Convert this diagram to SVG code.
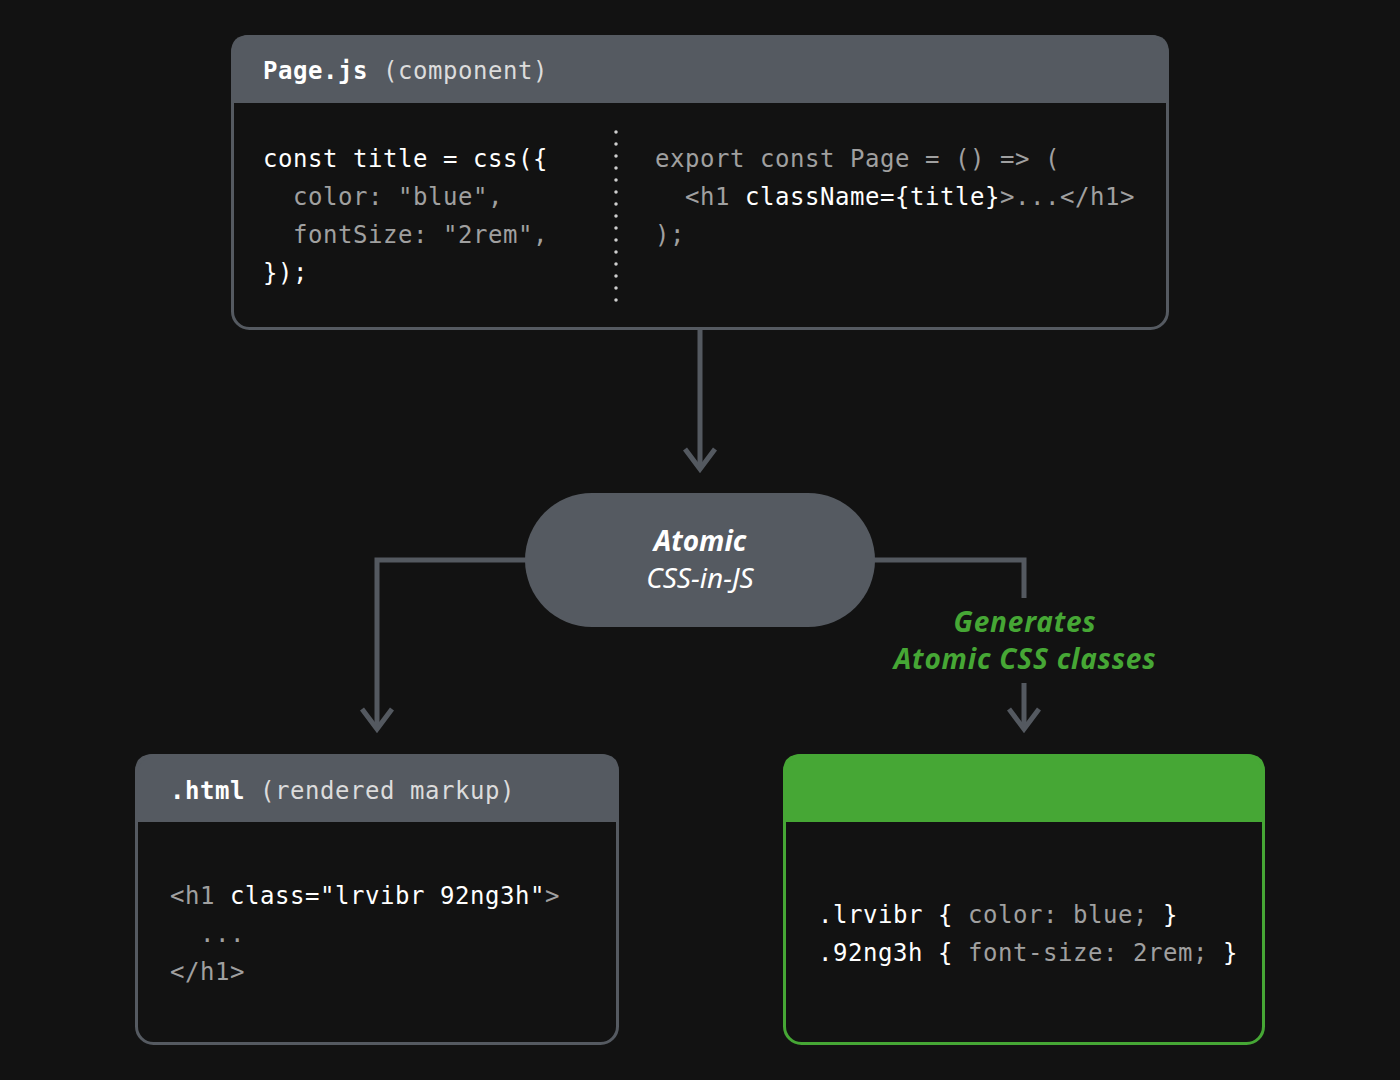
<svg xmlns="http://www.w3.org/2000/svg" width="1400" height="1080" viewBox="0 0 1400 1080">
<defs>
<style>
.code{font-family:"DejaVu Sans Mono","Liberation Mono",monospace;font-size:24px;letter-spacing:0.55px}
.w{fill:#ffffff}
.g{fill:#a0a0a0}
.hb{font-weight:bold;fill:#ffffff}
.hl{fill:#dcdcdc}
.conn{fill:none;stroke:#545960;stroke-width:5}
.lbl{font-family:"Noto Sans",Lato,sans-serif;font-style:italic;font-size:28px;text-anchor:middle}
</style>
</defs>
<rect width="1400" height="1080" fill="#121212"/>

<g id="connectors">
<path class="conn" d="M700 330 V468"/>
<path class="conn" d="M685 449 L700 469 L715 449"/>
<path class="conn" d="M527 560 H377 V728"/>
<path class="conn" d="M362 709 L377 729 L392 709"/>
<path class="conn" d="M873 560 H1024 V598"/>
<path class="conn" d="M1024 683 V728"/>
<path class="conn" d="M1009 709 L1024 729 L1039 709"/>
</g>

<g id="page-js">
<path d="M231 103 V53 Q231 35 249 35 H1151 Q1169 35 1169 53 V103 Z" fill="#555a61"/>
<rect x="232.5" y="36.5" width="935" height="292" rx="17" fill="none" stroke="#555a61" stroke-width="3"/>
<text class="code" x="263" y="79"><tspan class="hb">Page.js</tspan><tspan class="hl"> (component)</tspan></text>
<line x1="616" y1="132" x2="616" y2="302" stroke="#cfcfcf" stroke-width="3.5" stroke-linecap="round" stroke-dasharray="0 12"/>
<text class="code w" x="263" y="167">const title = css({</text>
<text class="code g" x="263" y="205" xml:space="preserve">  color: "blue",</text>
<text class="code g" x="263" y="243" xml:space="preserve">  fontSize: "2rem",</text>
<text class="code w" x="263" y="281">});</text>
<text class="code g" x="655" y="167">export const Page = () =&gt; (</text>
<text class="code" x="655" y="205" xml:space="preserve"><tspan class="g">  &lt;h1 </tspan><tspan class="w">className={title}</tspan><tspan class="g">&gt;...&lt;/h1&gt;</tspan></text>
<text class="code g" x="655" y="243">);</text>
</g>

<g id="atomic">
<rect x="525" y="493" width="350" height="134" rx="67" fill="#555a61"/>
<text class="lbl" x="700" y="551" fill="#ffffff" font-weight="bold">Atomic</text>
<text class="lbl" x="700" y="588" fill="#ffffff">CSS-in-JS</text>
</g>

<g id="generates-label">
<text class="lbl" x="1025" y="632" fill="#46a735" font-weight="bold" letter-spacing="0.8">Generates</text>
<text class="lbl" x="1025" y="669" fill="#46a735" font-weight="bold" letter-spacing="0.8">Atomic CSS classes</text>
</g>

<g id="html">
<path d="M135 822 V772 Q135 754 153 754 H601 Q619 754 619 772 V822 Z" fill="#555a61"/>
<rect x="136.5" y="755.5" width="481" height="288" rx="17" fill="none" stroke="#555a61" stroke-width="3"/>
<text class="code" x="170" y="799"><tspan class="hb">.html</tspan><tspan class="hl"> (rendered markup)</tspan></text>
<text class="code" x="170" y="904"><tspan class="g">&lt;h1 </tspan><tspan class="w">class="lrvibr 92ng3h"</tspan><tspan class="g">&gt;</tspan></text>
<text class="code g" x="170" y="942" xml:space="preserve">  ...</text>
<text class="code g" x="170" y="980">&lt;/h1&gt;</text>
</g>

<g id="css">
<path d="M783 822 V772 Q783 754 801 754 H1247 Q1265 754 1265 772 V822 Z" fill="#46a735"/>
<rect x="784.5" y="755.5" width="479" height="288" rx="17" fill="none" stroke="#46a735" stroke-width="3"/>
<text class="code" x="818" y="923" xml:space="preserve"><tspan class="w">.lrvibr {</tspan><tspan class="g"> color: blue; </tspan><tspan class="w">}</tspan></text>
<text class="code" x="818" y="961" xml:space="preserve"><tspan class="w">.92ng3h {</tspan><tspan class="g"> font-size: 2rem; </tspan><tspan class="w">}</tspan></text>
</g>
</svg>
